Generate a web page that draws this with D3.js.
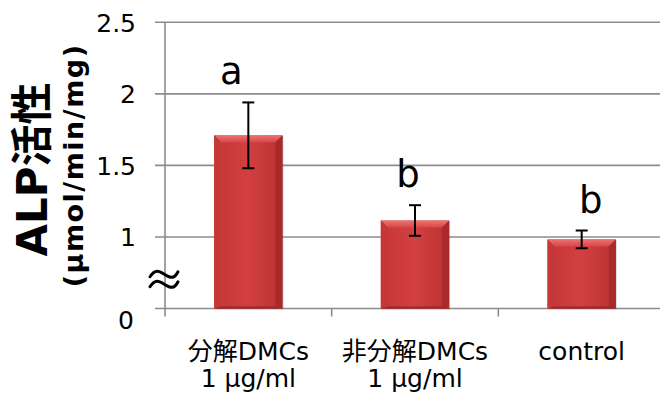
<!DOCTYPE html>
<html>
<head>
<meta charset="utf-8">
<script src="https://cdn.jsdelivr.net/npm/d3@7/dist/d3.min.js"></script>
<style>
  html, body { margin: 0; padding: 0; background: #fff; }
  svg { display: block; }
  text { font-family: "DejaVu Sans", "Noto Sans CJK JP", sans-serif; fill: #000; }
</style>
</head>
<body>
<svg id="chart" width="660" height="400"></svg>
<script>
// ALP activity per treatment group (mean ± error)
const categories = ["分解DMCs\n1 μg/ml", "非分解DMCs\n1 μg/ml", "control"];
const means = [1.71, 1.115, 0.983];
const errors = [0.23, 0.107, 0.062];
const sigLetters = ["a", "b", "b"];
const sigOffsets = [-17, -7, 9];       // horizontal nudge of each letter from the bar centre
// Broken value axis: the bottom of the axis (0.5) is labelled "0"
const tickValues = [0.5, 1, 1.5, 2, 2.5];
const tickLabels = ["0", "1", "1.5", "2", "2.5"];
const yTitle = "ALP活性";
const yUnit = "(μmol/min/mg)";

const svg = d3.select("#chart");
const plotLeft = 165, plotRight = 665, plotTop = 22.3, plotBottom = 308.5;

const y = d3.scaleLinear().domain([0.5, 2.5]).range([plotBottom, plotTop]);
const x = d3.scaleBand().domain(categories).range([plotLeft, plotRight]).padding(0);
const barW = x.bandwidth() * 0.41;
const gridColor = "#8c8c8c";

// gradients for the bevelled bars
const defs = svg.append("defs");
const g1 = defs.append("linearGradient").attr("id", "barFill").attr("x1", 0).attr("x2", 1).attr("y1", 0).attr("y2", 0);
g1.append("stop").attr("offset", "0%").attr("stop-color", "#c63636");
g1.append("stop").attr("offset", "50%").attr("stop-color", "#d24040");
g1.append("stop").attr("offset", "100%").attr("stop-color", "#ba3131");
const gTop = defs.append("linearGradient").attr("id", "bevelTop").attr("x1", 0).attr("x2", 0).attr("y1", 0).attr("y2", 1);
gTop.append("stop").attr("offset", "0%").attr("stop-color", "#ec7272");
gTop.append("stop").attr("offset", "100%").attr("stop-color", "#d84848");
const filt = defs.append("filter").attr("id", "soft").attr("x", "-10%").attr("y", "-10%").attr("width", "120%").attr("height", "120%");
filt.append("feGaussianBlur").attr("stdDeviation", 0.6);

// horizontal gridlines with their left tick stubs
svg.append("g").selectAll("line").data(tickValues).join("line")
  .attr("x1", plotLeft - 10).attr("x2", 660)
  .attr("y1", d => y(d)).attr("y2", d => y(d))
  .attr("stroke", gridColor).attr("stroke-width", 1.6);

// category ticks below the baseline
svg.append("g").selectAll("line").data(categories).join("line")
  .attr("x1", d => x(d) + x.step()).attr("x2", d => x(d) + x.step())
  .attr("y1", plotBottom).attr("y2", plotBottom + 8)
  .attr("stroke", gridColor).attr("stroke-width", 1.6);

// vertical axis line
svg.append("line").attr("x1", plotLeft).attr("x2", plotLeft).attr("y1", plotTop).attr("y2", plotBottom + 8)
  .attr("stroke", gridColor).attr("stroke-width", 1.6);

// value tick labels
svg.append("g").selectAll("text").data(tickValues).join("text")
  .attr("x", d => d === 0.5 ? 134 : 136)
  .attr("y", d => y(d) + (d === 0.5 ? 12 : 1))
  .attr("text-anchor", "end").attr("dominant-baseline", "central")
  .attr("font-size", 25)
  .text((d, i) => tickLabels[i]);

// axis break mark between 0 and 1
const breakY = (y(0.5) + y(1)) / 2 + 7;
[-5, 5].forEach(off => {
  const yy = breakY + off;
  svg.append("path")
    .attr("d", `M${plotLeft - 15},${yy + 2} C${plotLeft - 9},${yy - 7} ${plotLeft - 5},${yy - 3} ${plotLeft},${yy}` +
               ` S${plotLeft + 9},${yy + 5} ${plotLeft + 13},${yy - 3}`)
    .attr("fill", "none").attr("stroke", "#000").attr("stroke-width", 3).attr("stroke-linecap", "round");
});

// bars
const bars = svg.append("g").selectAll("g").data(means).join("g");
bars.each(function (v, i) {
  const g = d3.select(this);
  const cx = x(categories[i]) + x.bandwidth() / 2;
  const x0 = cx - barW / 2, x1 = cx + barW / 2;
  const y0 = y(v), y1 = y(0.5);
  const b = 7;
  // soft shadow
  g.append("rect").attr("x", x0 + 1).attr("y", y0 + 1).attr("width", barW).attr("height", y1 - y0)
    .attr("fill", "#000").attr("opacity", 0.15).attr("filter", "url(#soft)");
  g.append("rect").attr("x", x0).attr("y", y0).attr("width", barW).attr("height", y1 - y0)
    .attr("fill", "url(#barFill)");
  // bevel faces
  g.append("polygon").attr("points", [[x0, y0], [x1, y0], [x1 - b, y0 + b], [x0 + b, y0 + b]].join(" "))
    .attr("fill", "url(#bevelTop)");
  g.append("polygon").attr("points", [[x0, y0], [x0 + b, y0 + b], [x0 + b, y1 - 2], [x0, y1]].join(" "))
    .attr("fill", "#c43838");
  g.append("polygon").attr("points", [[x1, y0], [x1 - b, y0 + b], [x1 - b, y1 - 2], [x1, y1]].join(" "))
    .attr("fill", "#a82a2a");
  g.append("polygon").attr("points", [[x0, y1], [x0 + b, y1 - 2], [x1 - b, y1 - 2], [x1, y1]].join(" "))
    .attr("fill", "#9a2626");
});

// error bars
const eb = svg.append("g").attr("stroke", "#000").attr("stroke-width", 2);
means.forEach((v, i) => {
  const cx = x(categories[i]) + x.bandwidth() / 2;
  const hi = y(v + errors[i]), lo = y(v - errors[i]);
  eb.append("line").attr("x1", cx).attr("x2", cx).attr("y1", hi).attr("y2", lo);
  eb.append("line").attr("x1", cx - 6).attr("x2", cx + 6).attr("y1", hi).attr("y2", hi);
  eb.append("line").attr("x1", cx - 6).attr("x2", cx + 6).attr("y1", lo).attr("y2", lo);
});

// significance letters above each error bar
svg.append("g").selectAll("text").data(sigLetters).join("text")
  .attr("x", (d, i) => x(categories[i]) + x.bandwidth() / 2 + sigOffsets[i])
  .attr("y", (d, i) => y(means[i] + errors[i]) - 18)
  .attr("text-anchor", "middle").attr("font-size", 37)
  .text(d => d);

// category labels (two lines where given)
const cl = svg.append("g").selectAll("text").data(categories).join("text")
  .attr("text-anchor", "middle").attr("font-size", 25)
  .attr("transform", d => `translate(${x(d) + x.bandwidth() / 2},360)`);
cl.each(function (d) {
  const lines = d.split("\n");
  const t = d3.select(this);
  lines.forEach((ln, k) => t.append("tspan").attr("x", 0).attr("y", k * 27).text(ln));
});

// axis titles
svg.append("text")
  .attr("transform", `translate(47,${(plotTop + plotBottom) / 2 + 4}) rotate(-90)`)
  .attr("text-anchor", "middle").attr("font-size", 42).attr("font-weight", "bold")
  .text(yTitle);
svg.append("text")
  .attr("transform", `translate(83,${(plotTop + plotBottom) / 2}) rotate(-90)`)
  .attr("text-anchor", "middle").attr("font-size", 27).attr("font-weight", "bold")
  .attr("letter-spacing", 1.5)
  .text(yUnit);
</script>
</body>
</html>
